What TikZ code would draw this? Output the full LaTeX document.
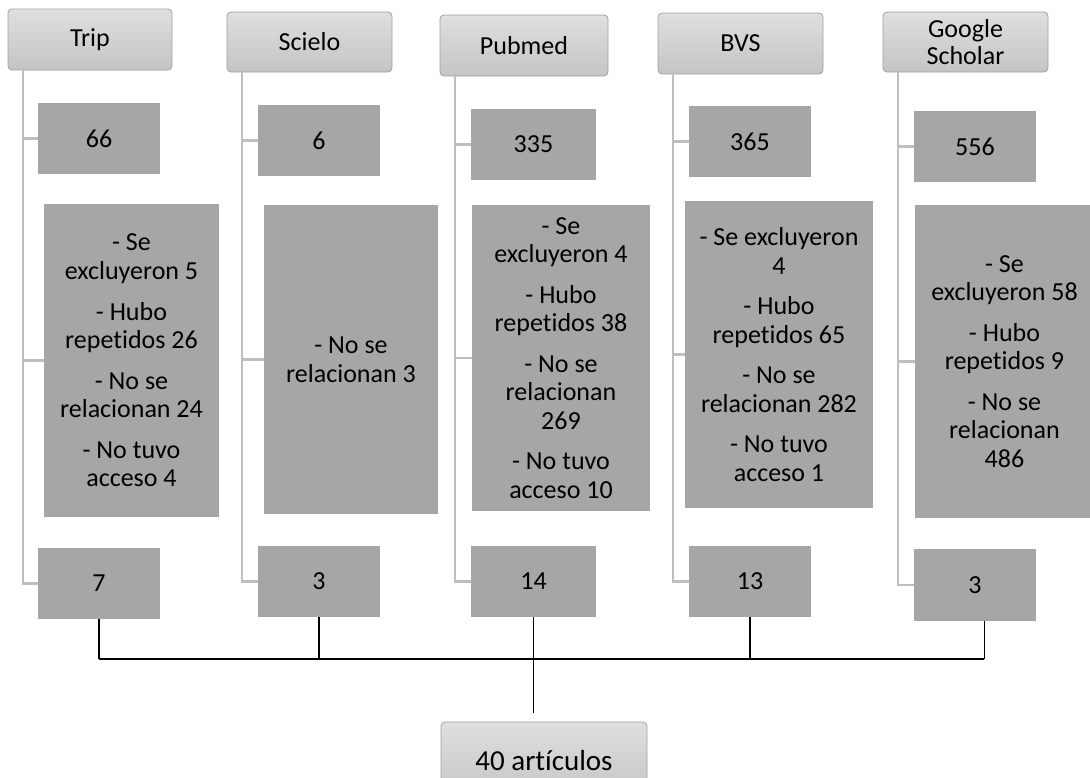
\documentclass[tikz,border=0pt]{standalone}
\usepackage{fontspec}
\setmainfont{Carlito}[Ligatures=NoCommon]
\usepackage{tikz}
\usetikzlibrary{positioning,calc}

\definecolor{boxgray}{RGB}{166,166,166}
\definecolor{spinegray}{RGB}{191,191,191}
\definecolor{headtop}{RGB}{223,223,223}
\definecolor{headbot}{RGB}{196,196,196}
\definecolor{headline}{RGB}{160,160,160}

\tikzset{
  area/.style n args={4}{minimum width={(#3-#1)*0.75pt}, minimum height={(#4-#2)*0.75pt},
    at={({(#1+#3)/2},{(#2+#4)/2})}},
  headbox/.style={draw=headline, line width=0.6pt, rounded corners=3pt,
    top color=headtop, bottom color=headbot, inner sep=0pt, align=center,
    font=\fontsize{19.5}{20.5}\selectfont},
  numbox/.style={fill=boxgray, inner sep=0pt, align=center,
    font=\fontsize{19.5}{21.4}\selectfont},
  spine/.style={draw=spinegray, line width=1.6pt},
  mergeline/.style={draw=black, line width=0.8pt},
}

\begin{document}
\begin{tikzpicture}[x=0.75pt,y=-0.75pt]
\useasboundingbox (0,0) rectangle (1090,778);

% Headers
\node[headbox, area={8}{9}{172}{70}] (trip-head) {Trip};
\node[headbox, area={227}{12}{392}{72}] (scielo-head) {Scielo};
\node[headbox, area={440}{15}{608}{76}] (pubmed-head) {Pubmed};
\node[headbox, area={658}{13}{823}{74}] (bvs-head) {BVS};
\node[headbox, area={883}{12}{1048}{72}] (gs-head) {Google\\Scholar};

% Found
\node[numbox, area={38}{103}{160}{174}] (trip-total) {66};
\node[numbox, area={258}{105}{380}{176}] (scielo-total) {6};
\node[numbox, area={471}{109}{596}{180}] (pubmed-total) {335};
\node[numbox, area={689}{106}{811}{177}] (bvs-total) {365};
\node[numbox, area={914}{111}{1036}{182}] (gs-total) {556};

% Discarded
\node[numbox, area={44}{204}{219}{517}] (trip-excl)
  {- Se\\excluyeron 5\\[9pt]- Hubo\\repetidos 26\\[9pt]- No se\\relacionan 24\\[9pt]- No tuvo\\acceso 4};
\node[numbox, area={264}{205}{438}{514}] (scielo-excl)
  {- No se\\relacionan 3};
\node[numbox, area={472}{205}{650}{511}] (pubmed-excl)
  {- Se\\excluyeron 4\\[9pt]- Hubo\\repetidos 38\\[9pt]- No se\\relacionan\\269\\[9pt]- No tuvo\\acceso 10};
\node[numbox, area={685}{201}{873}{508}] (bvs-excl)
  {- Se excluyeron\\4\\[9pt]- Hubo\\repetidos 65\\[9pt]- No se\\relacionan 282\\[9pt]- No tuvo\\acceso 1};
\node[numbox, area={915}{205}{1094}{518}] (gs-excl)
  {- Se\\excluyeron 58\\[9pt]- Hubo\\repetidos 9\\[9pt]- No se\\relacionan\\486};

% Selected
\node[numbox, area={38}{548}{160}{619}] (trip-sel) {7};
\node[numbox, area={258}{546}{380}{617}] (scielo-sel) {3};
\node[numbox, area={471}{546}{596}{617}] (pubmed-sel) {14};
\node[numbox, area={689}{546}{811}{617}] (bvs-sel) {13};
\node[numbox, area={914}{549}{1036}{621}] (gs-sel) {3};

% Total
\node[headbox, font=\fontsize{21.75}{23}\selectfont, area={441}{722}{647}{800}] (final) {40 artículos};

% Spines
\foreach \c in {trip,scielo,pubmed,bvs,gs}{
  \coordinate (\c-s) at ([xshift=11.6pt]\c-head.south west);
  \draw[spine] (\c-s) |- (\c-sel.west);
  \draw[spine] (\c-s |- \c-total.west) -- (\c-total.west);
  \draw[spine] (\c-s |- \c-excl.west) -- (\c-excl.west);
}

% Merge
\coordinate (bus) at (533,659);
\coordinate (gs-drop) at ([xshift=7pt]gs-sel.south);
\foreach \c in {trip,scielo,bvs}{
  \draw[mergeline] (\c-sel.south) -- (\c-sel.south |- bus);
}
\draw[mergeline] (gs-drop) -- (gs-drop |- bus);
\draw[mergeline] (trip-sel.south |- bus) -- (gs-drop |- bus);
\draw[mergeline, shorten >=6.75pt] (pubmed-sel.south) -- (pubmed-sel.south |- final.north);

\end{tikzpicture}
\end{document}
